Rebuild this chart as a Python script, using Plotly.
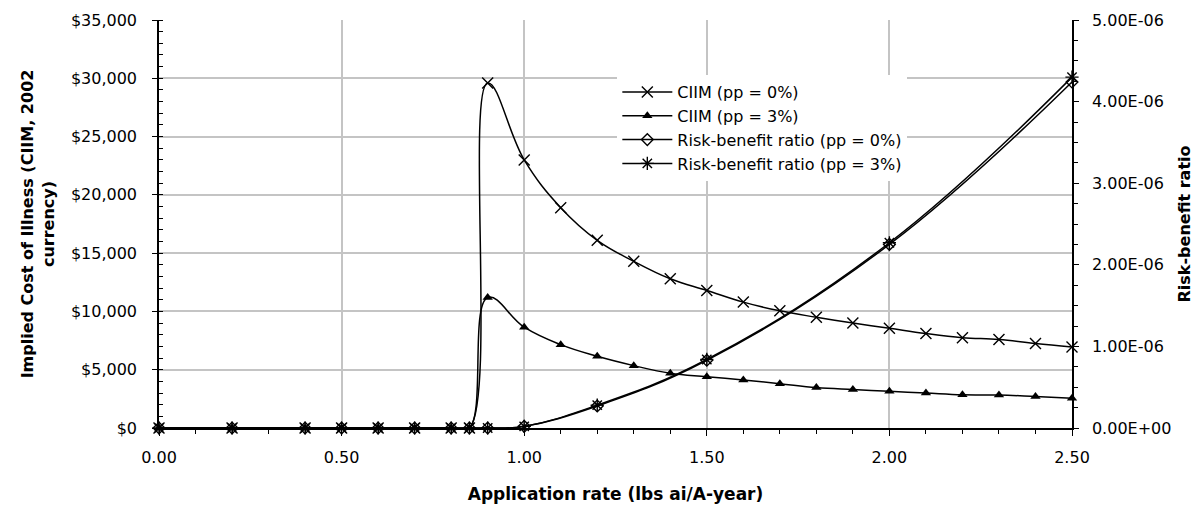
import plotly.graph_objects as go

# Application rates (lbs ai/A-year)
rate_ciim = [0.0, 0.2, 0.4, 0.5, 0.6, 0.7, 0.8, 0.85, 0.9, 1.0, 1.1, 1.2, 1.3,
             1.4, 1.5, 1.6, 1.7, 1.8, 1.9, 2.0, 2.1, 2.2, 2.3, 2.4, 2.5]
rate_rb = [0.0, 0.2, 0.4, 0.5, 0.6, 0.7, 0.8, 0.85, 0.9, 1.0, 1.2, 1.5, 2.0, 2.5]

# Implied cost of illness (2002 $)
ciim_pp0 = [0, 0, 0, 0, 0, 0, 0, 0, 29600, 23000, 18900, 16100, 14300,
            12800, 11800, 10800, 10050, 9500, 9000, 8550, 8100, 7750, 7600, 7250, 6950]
ciim_pp3 = [0, 0, 0, 0, 0, 0, 0, 0, 11200, 8650, 7150, 6150, 5350,
            4700, 4400, 4120, 3800, 3470, 3300, 3150, 3000, 2850, 2830, 2700, 2550]

# Risk-benefit ratio
rb_pp0 = [0, 0, 0, 0, 0, 0, 0, 0, 0, 0.02e-6, 0.27e-6, 0.83e-6, 2.25e-6, 4.24e-6]
rb_pp3 = [0, 0, 0, 0, 0, 0, 0, 0, 0, 0.02e-6, 0.28e-6, 0.84e-6, 2.27e-6, 4.30e-6]

# Axis ticks
x_ticks = [0.0, 0.5, 1.0, 1.5, 2.0, 2.5]
y_ticks = [0, 5000, 10000, 15000, 20000, 25000, 30000, 35000]
y_labels = [f"${v:,}" for v in y_ticks]
y2_ticks = [0, 1e-6, 2e-6, 3e-6, 4e-6, 5e-6]
y2_labels = [f"{v:.2E}" for v in y2_ticks]

FONT = "DejaVu Sans"
BLACK = "#000000"
GRID = "#c4c4c4"

line_style = dict(color=BLACK, width=1.5, shape="spline", smoothing=1.15)

fig = go.Figure()
fig.add_trace(go.Scatter(
    x=rate_ciim, y=ciim_pp0, name="CIIM (pp = 0%)", mode="lines+markers",
    line=line_style, cliponaxis=False,
    marker=dict(symbol="x-thin-open", size=11, color=BLACK, line=dict(color=BLACK, width=1.4)),
))
fig.add_trace(go.Scatter(
    x=rate_ciim, y=ciim_pp3, name="CIIM (pp = 3%)", mode="lines+markers",
    line=line_style, cliponaxis=False,
    marker=dict(symbol="triangle-up", size=9, color=BLACK),
))
fig.add_trace(go.Scatter(
    x=rate_rb, y=rb_pp0, name="Risk-benefit ratio (pp = 0%)", mode="lines+markers",
    line=line_style, yaxis="y2", cliponaxis=False,
    marker=dict(symbol="diamond-open", size=9, color=BLACK, line=dict(color=BLACK, width=1.4)),
))
fig.add_trace(go.Scatter(
    x=rate_rb, y=rb_pp3, name="Risk-benefit ratio (pp = 3%)", mode="lines+markers",
    line=line_style, yaxis="y2", cliponaxis=False,
    marker=dict(symbol="asterisk-open", size=11, color=BLACK, line=dict(color=BLACK, width=1.4)),
))

tick_font = dict(family=FONT, size=16, color=BLACK)
title_font = dict(family=FONT, size=16, color=BLACK, weight="bold")

fig.update_layout(
    width=1204, height=510,
    margin=dict(l=159, r=132, t=20, b=82, autoexpand=False),
    paper_bgcolor="white", plot_bgcolor="white",
    font=dict(family=FONT, color=BLACK),
    showlegend=True,
    legend=dict(
        x=0.502, y=0.865, xanchor="left", yanchor="top",
        bgcolor="white", borderwidth=0, itemwidth=50,
        font=dict(family=FONT, size=16, color=BLACK),
        tracegroupgap=0,
    ),
    xaxis=dict(
        range=[0, 2.5], tickvals=x_ticks, tickformat=".2f", automargin=False,
        ticks="outside", ticklen=6, tickcolor=BLACK, tickwidth=1.3,
        ticklabelstandoff=8,
        minor=dict(dtick=0.1, tick0=0, ticks="outside", ticklen=4, tickcolor=BLACK, showgrid=False),
        showline=True, linecolor=BLACK, linewidth=1.5,
        showgrid=True, gridcolor=GRID, gridwidth=1.5, zeroline=False,
        tickfont=tick_font,
        title=dict(text="Application rate (lbs ai/A-year)", font=dict(family=FONT, size=17, color=BLACK, weight="bold"), standoff=22),
    ),
    yaxis=dict(
        range=[0, 35000], tickvals=y_ticks, ticktext=y_labels, automargin=False,
        ticks="outside", ticklen=5, tickcolor=BLACK, tickwidth=1.3,
        ticklabelstandoff=12,
        minor=dict(dtick=1000, tick0=0, ticks="inside", ticklen=4, tickcolor=BLACK, showgrid=False),
        showline=True, linecolor=BLACK, linewidth=1.5,
        showgrid=True, gridcolor=GRID, gridwidth=1.5, zeroline=False,
        tickfont=tick_font,
        title=dict(text="Implied Cost of Illness (CIIM, 2002<br>currency)", font=title_font, standoff=12),
    ),
    yaxis2=dict(
        range=[0, 5e-6], overlaying="y", side="right", automargin=False,
        tickvals=y2_ticks, ticktext=y2_labels,
        ticks="outside", ticklen=5, tickcolor=BLACK, tickwidth=1.3,
        ticklabelstandoff=10,
        minor=dict(dtick=0.25e-6, tick0=0, ticks="outside", ticklen=4, tickcolor=BLACK, showgrid=False),
        showline=True, linecolor=BLACK, linewidth=1.5,
        showgrid=False, zeroline=False,
        tickfont=tick_font,
        title=dict(text="Risk-benefit ratio", font=title_font, standoff=8),
    ),
)

fig.write_html("out.html")
